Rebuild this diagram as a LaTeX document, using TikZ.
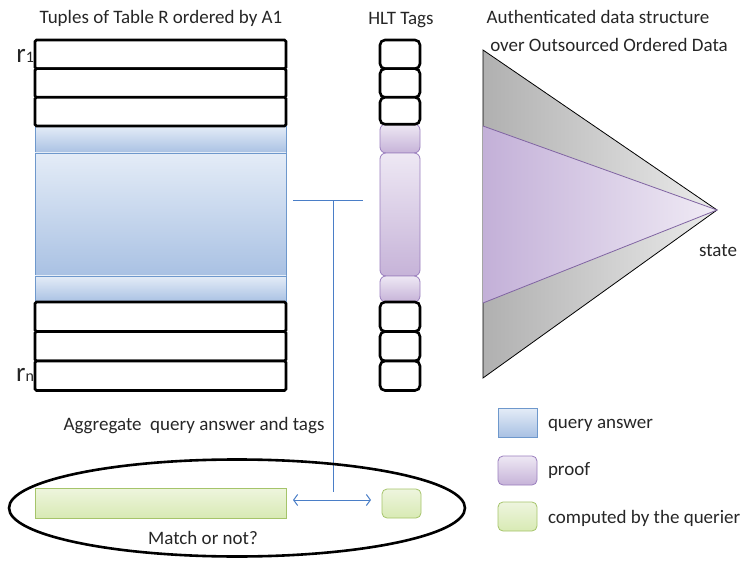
\documentclass[tikz,border=0pt]{standalone}
\usepackage{fontspec}
\setmainfont{Carlito}
\usetikzlibrary{arrows.meta,shapes.geometric,calc}
\definecolor{qlight}{HTML}{E4ECF7}
\definecolor{qdark}{HTML}{A9C1E3}
\definecolor{qborder}{HTML}{6E98CC}
\definecolor{plight}{HTML}{EEE8F4}
\definecolor{pdark}{HTML}{C6B3D8}
\definecolor{pborder}{HTML}{9A7EBE}
\definecolor{glight}{HTML}{EEF5DE}
\definecolor{gdark}{HTML}{D8EAB4}
\definecolor{gborder}{HTML}{A5C46A}
\definecolor{linkblue}{HTML}{4A7EC7}
\definecolor{treegrayL}{HTML}{B0B0B0}
\definecolor{treegrayR}{HTML}{EBEBEB}
\definecolor{proofL}{HTML}{C3B0D8}
\definecolor{proofR}{HTML}{F0EBF5}
\definecolor{proofedge}{HTML}{8064A2}
\begin{document}
\begin{tikzpicture}[x=1pt,y=-1pt,
  every node/.style={inner sep=0pt,outer sep=0pt},
  lbl/.style={font=\fontsize{19}{22}\selectfont, text=black!85},
  rowbox/.style={draw=black,line width=2.6pt,fill=white,rounded corners=1.5pt,
    minimum width=251pt,anchor=north west},
  tagbox/.style={draw=black,line width=2.6pt,fill=white,rounded corners=5pt,
    minimum width=40pt,anchor=north west},
  qband/.style={draw=qborder,line width=0.8pt,top color=qlight,bottom color=qdark,
    minimum width=251pt,anchor=north west},
  pband/.style={draw=pborder,line width=0.8pt,top color=plight,bottom color=pdark,
    rounded corners=6pt,minimum width=40pt,anchor=north west},
  gband/.style={draw=gborder,line width=0.8pt,top color=glight,bottom color=gdark,
    anchor=north west},
  link/.style={draw=linkblue,line width=1pt},
  barb/.tip={Straight Barb[length=4pt,width=11pt]}
]
\useasboundingbox (0,0) rectangle (747,561);

% ---- table R: query answer bands (blue)
\node[qband,minimum height=27pt]  (qtop) at (35,126) {};
\node[qband,minimum height=123pt] (qbig) at (35,153) {};
\node[qband,minimum height=26pt]  (qbot) at (35,276) {};

% ---- table R: plain tuples
\node[rowbox,minimum height=28.7pt] (t1) at (35,40) {};
\node[rowbox,minimum height=28.7pt] (t2) at (35,68.7) {};
\node[rowbox,minimum height=28.7pt] (t3) at (35,97.3) {};
\node[rowbox,minimum height=29.5pt] (t4) at (35,302) {};
\node[rowbox,minimum height=29.5pt] (t5) at (35,331.5) {};
\node[rowbox,minimum height=29.5pt] (t6) at (35,361) {};

% ---- HLT tags: proof bands (purple)
\node[pband,minimum height=29pt]  (ptop) at (380,124) {};
\node[pband,minimum height=123pt] (pbig) at (380,153) {};
\node[pband,minimum height=26pt]  (pbot) at (380,276) {};

% ---- HLT tags: plain tags
\node[tagbox,minimum height=28.7pt] (h1) at (380,40) {};
\node[tagbox,minimum height=28.7pt] (h2) at (380,68.7) {};
\node[tagbox,minimum height=27pt]   (h3) at (380,97.3) {};
\node[tagbox,minimum height=29.5pt] (h4) at (380,302) {};
\node[tagbox,minimum height=29.5pt] (h5) at (380,331.5) {};
\node[tagbox,minimum height=29.5pt] (h6) at (380,361) {};

% ---- titles and row labels
\node[lbl] (ttl) at (161,18) {Tuples of Table R ordered by A1};
\node[lbl] (hlt) at (401,20) {HLT Tags};
\node[anchor=south east,text=black!85] (r1lab) at (34,63)
  {{\fontsize{27}{27}\selectfont r}{\fontsize{16}{16}\selectfont 1}};
\node[anchor=south east,text=black!85] (rnlab) at (34,381)
  {{\fontsize{27}{27}\selectfont r}{\fontsize{16}{16}\selectfont n}};

% ---- authenticated data structure (triangles)
\coordinate (apex) at (717,210);
\shade[left color=treegrayL,right color=treegrayR]
  (483,50) -- (apex) -- (483,378) -- cycle;
\draw[black,line width=0.8pt] (483,50) -- (apex) -- (483,378) -- cycle;
\shade[left color=proofL,right color=proofR]
  (483,126) -- (apex) -- (483,303) -- cycle;
\draw[proofedge,line width=0.8pt] (483,126) -- (apex) -- (483,303);
\node[lbl] (ads1) at (598,17) {Authenticated data structure};
\node[lbl] (ads2) at (609,45) {over Outsourced Ordered Data};
\node[lbl] (state) at (718,251) {state};

% ---- aggregation connector
\coordinate (hl) at (293,201);
\coordinate (hr) at (363,201);
\coordinate (hm) at (333,201);
\coordinate (vb) at (333,492);
\draw[link] (hl) -- (hr);
\draw[link] (hm) -- (vb);
\node[lbl] (agg) at (194,426) {Aggregate\ \ query answer and tags};

% ---- verification by the querier
\node[draw=black,line width=2.6pt,ellipse,minimum width=456pt,minimum height=97pt]
  (verify) at (237,508) {};
\node[gband,minimum width=251pt,minimum height=30pt] (gbar) at (35,488) {};
\node[gband,rounded corners=5pt,minimum width=39pt,minimum height=29pt] (gbox) at (382,489) {};
\coordinate (al) at (293,500);
\coordinate (ar) at (371,500);
\draw[link,barb-barb] (al) -- (ar);
\node[lbl] (match) at (203,538) {Match or not?};

% ---- legend
\node[qband,minimum width=39pt,minimum height=29pt] (legq) at (498,408) {};
\node[pband,rounded corners=5pt,minimum width=39pt,minimum height=29pt] (legp) at (498,456) {};
\node[gband,rounded corners=5pt,minimum width=39pt,minimum height=29pt] (legg) at (498,502) {};
\node[lbl,anchor=west] (legqt) at (548,425) {query answer};
\node[lbl,anchor=west] (legpt) at (548,471) {proof};
\node[lbl,anchor=west] (leggt) at (548,518) {computed by the querier};
\end{tikzpicture}
\end{document}
